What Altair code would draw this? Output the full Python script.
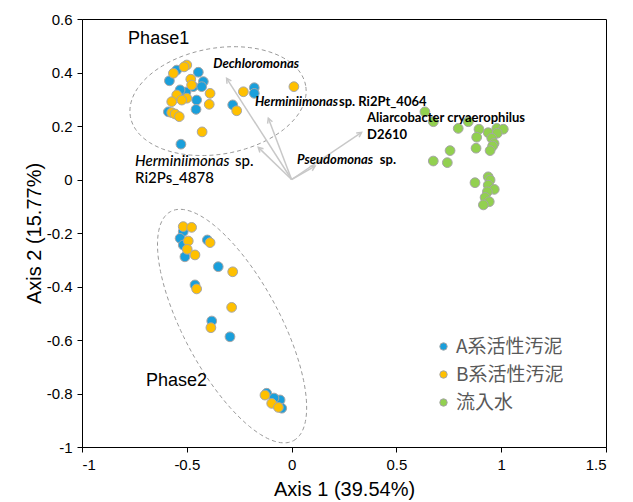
import altair as alt
import pandas as pd
import numpy as np

# ---------------- data ----------------
groups = ["A系活性汚泥", "B系活性汚泥", "流入水"]
colors = ["#1A9FDB", "#FFC000", "#92D050"]

a_x = [-0.548, -0.445, -0.583, -0.421, -0.469, -0.429, -0.453, -0.456, -0.588, -0.281,
       -0.178, -0.178, -0.528, -0.504, -0.532,
       -0.517, -0.532, -0.517, -0.509, -0.402, -0.350, -0.461, -0.381, -0.294,
       -0.119, -0.055, -0.047, -0.084]
a_y = [0.409, 0.401, 0.369, 0.366, 0.347, 0.347, 0.297, 0.262, 0.253, 0.279,
       0.343, 0.322, 0.132, 0.327, 0.335,
       -0.195, -0.220, -0.245, -0.289, -0.226, -0.326, -0.394, -0.529, -0.588,
       -0.799, -0.824, -0.855, -0.817]

b_x = [-0.500, -0.513, -0.564, -0.481, -0.477, -0.389, -0.500, -0.548, -0.572, -0.524,
       -0.393, -0.572, -0.556, -0.536, -0.262, -0.230, 0.011, -0.427,
       -0.517, -0.477, -0.493, -0.498, -0.461, -0.389, -0.281, -0.453, -0.286, -0.385,
       -0.127, -0.095, -0.063]
b_y = [0.428, 0.421, 0.397, 0.375, 0.353, 0.322, 0.304, 0.316, 0.291, 0.297,
       0.281, 0.250, 0.245, 0.235, 0.257, 0.328, 0.347, 0.178,
       -0.176, -0.179, -0.230, -0.261, -0.282, -0.236, -0.345, -0.409, -0.478, -0.554,
       -0.806, -0.837, -0.852]

c_x = [0.636, 0.676, 0.795, 0.843, 0.894, 0.883, 0.938, 0.979, 1.010, 0.981,
       0.955, 0.966, 0.959, 0.880, 0.947, 0.756, 0.676, 0.743,
       0.875, 0.938, 0.947, 0.938, 0.967, 0.934, 0.923, 0.943, 0.915]
c_y = [0.253, 0.216, 0.191, 0.216, 0.188, 0.158, 0.175, 0.191, 0.188, 0.173,
       0.154, 0.135, 0.125, 0.117, 0.108, 0.108, 0.069, 0.063,
       -0.012, 0.010, -0.002, -0.021, -0.037, -0.046, -0.067, -0.083, -0.095]

arrow_names = ["Dechloromonas", "Herminiimonas sp. Ri2Pt_4064", "Herminiimonas sp. Ri2Ps_4878",
               "Pseudomonas sp.", "Aliarcobacter cryaerophilus D2610"]
arrow_x = [-0.310, -0.111, -0.159, 0.112, 0.334]
arrow_y = [0.378, 0.229, 0.120, 0.050, 0.176]

x_ticks = [-1, -0.5, 0, 0.5, 1, 1.5]
y_ticks = [-1, -0.8, -0.6, -0.4, -0.2, 0, 0.2, 0.4, 0.6]

# annotation texts (left edge x, centre y)
bi_text = ["Dechloromonas", "Herminiimonas", "Pseudomonas"]
bi_x = [-0.374, -0.175, 0.026]
bi_y = [0.432, 0.291, 0.073]
bo_text = ["sp. Ri2Pt_4064", "Aliarcobacter cryaerophilus", "D2610", "sp."]
bo_x = [0.226, 0.360, 0.360, 0.421]
bo_y = [0.291, 0.229, 0.166, 0.073]
li_text = ["Herminiimonas"]
li_x = [-0.747]
li_y = [0.070]
lr_text = ["sp.", "Ri2Ps_4878"]
lr_x = [-0.270, -0.747]
lr_y = [0.070, 0.006]
ph_text = ["Phase1", "Phase2"]
ph_x = [-0.780, -0.695]
ph_y = [0.525, -0.753]

# ---------------- layout ----------------
W, H = 524, 428
XD, YD = [-1, 1.5], [-1, 0.6]
PX_X = W / (XD[1] - XD[0])
PX_Y = H / (YD[1] - YD[0])

pts = pd.DataFrame({
    "x": a_x + b_x + c_x,
    "y": a_y + b_y + c_y,
    "grp": [groups[0]] * len(a_x) + [groups[1]] * len(b_x) + [groups[2]] * len(c_x),
})
pts["o"] = range(len(pts))

# dashed group ellipses (centre in data units, semi-axes in px, rotation deg)
def ellipse(name, cx, cy, a_px, b_px, phi_deg, n=120):
    t = np.linspace(0, 2 * np.pi, n + 1)
    phi = np.radians(phi_deg)
    dx = a_px * np.cos(t) * np.cos(phi) - b_px * np.sin(t) * np.sin(phi)
    dy = a_px * np.cos(t) * np.sin(phi) + b_px * np.sin(t) * np.cos(phi)
    return pd.DataFrame({"x": cx + dx / PX_X, "y": cy + dy / PX_Y, "i": range(n + 1), "g": name})

ell = pd.concat([
    ellipse("p1", -0.351, 0.293, 89, 53, 10),
    ellipse("p2", -0.284, -0.548, 130, 48, -61.8),
])

arr = pd.DataFrame({"name": arrow_names, "x": arrow_x, "y": arrow_y})
arr["x0"] = 0.0
arr["y0"] = 0.0
arr["ang"] = (np.degrees(np.arctan2(arr["x"] * PX_X, arr["y"] * PX_Y)) + 360) % 360

xs = alt.Scale(domain=XD, nice=False, zero=False)
ys = alt.Scale(domain=YD, nice=False, zero=False)

base_font = "Liberation Sans"
XT, YT = "Axis 1 (39.54%)", "Axis 2 (15.77%)"
xax = alt.Axis(values=x_ticks, labelExpr="toString(datum.value)", titlePadding=7)
yax = alt.Axis(values=y_ticks, labelExpr="toString(datum.value)", titlePadding=2)


def X(f):
    return alt.X(f, scale=xs, title=XT, axis=xax)


def Y(f):
    return alt.Y(f, scale=ys, title=YT, axis=yax)


ell_layer = alt.Chart(ell).mark_line(
    color="#9a9a9a", strokeDash=[4, 3], strokeWidth=1
).encode(x=X("x:Q"), y=Y("y:Q"), detail="g:N", order="i:Q")

rule_layer = alt.Chart(arr).mark_rule(color="#c8c8c8", strokeWidth=1.5).encode(
    x=X("x0:Q"), y=Y("y0:Q"), x2="x:Q", y2="y:Q",
)

head_layer = alt.Chart(arr).mark_point(
    shape="M-0.55,1L0,0L0.55,1", filled=False, color="#c8c8c8", strokeWidth=1.5, size=90, opacity=1
).encode(x=X("x:Q"), y=Y("y:Q"), angle=alt.Angle("ang:Q", scale=None))

pt_layer = alt.Chart(pts).mark_point(
    filled=True, size=95, stroke="#a6a6a6", strokeWidth=1, opacity=1
).encode(
    x=X("x:Q"),
    y=Y("y:Q"),
    fill=alt.Fill("grp:N", scale=alt.Scale(domain=groups, range=colors),
                  legend=alt.Legend(title=None, orient="none", legendX=352, legendY=318,
                                    labelFont="Noto Sans CJK JP", labelFontSize=19,
                                    labelColor="#595959", symbolType="circle", symbolSize=55,
                                    symbolStrokeColor="#a6a6a6", symbolStrokeWidth=1,
                                    rowPadding=8, labelOffset=3, padding=0)),
    order="o:Q",
)


def text_layer(xv, yv, tv, **kw):
    df = pd.DataFrame({"x": xv, "y": yv, "t": tv})
    return alt.Chart(df).mark_text(align="left", baseline="middle", color="black", **kw).encode(
        x=X("x:Q"), y=Y("y:Q"), text="t:N",
    )


t1 = text_layer(bi_x, bi_y, bi_text, font="Lato", fontSize=13, fontWeight="bold", fontStyle="italic")
t2 = text_layer(bo_x, bo_y, bo_text, font="Lato", fontSize=13, fontWeight="bold")
t3 = text_layer(li_x, li_y, li_text, font="Lato", fontSize=15, fontWeight=500, fontStyle="italic")
t4 = text_layer(lr_x, lr_y, lr_text, font="Lato", fontSize=15, fontWeight=500)
t5 = text_layer(ph_x, ph_y, ph_text, font=base_font, fontSize=18)

chart = alt.layer(ell_layer, rule_layer, head_layer, pt_layer, t1, t2, t3, t4, t5).properties(
    width=W, height=H,
    padding={"left": 74, "top": 11, "right": 19, "bottom": 53},
    autosize=alt.AutoSizeParams(type="none"),
).configure_view(
    stroke="black", strokeWidth=1
).configure_axis(
    domainColor="black", tickColor="black", labelColor="black", titleColor="black",
    labelFont=base_font, titleFont=base_font, labelFontSize=15, titleFontSize=20,
    titleFontWeight="normal", grid=False, tickSize=5, labelPadding=5, domainWidth=1,
)

chart.save("out.html", embed_options={"renderer": "svg", "actions": False})
